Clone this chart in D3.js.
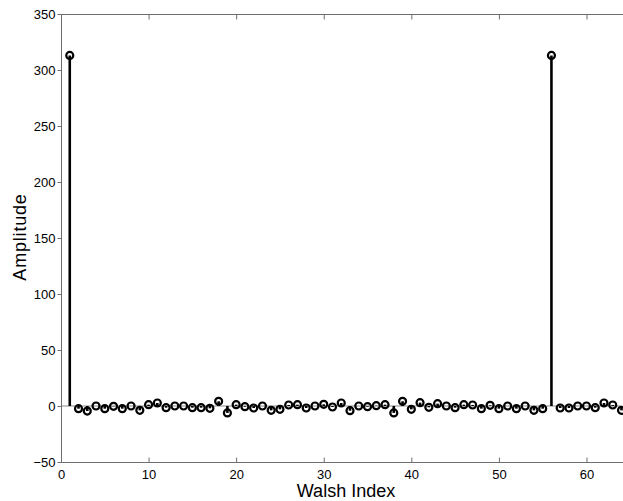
<!DOCTYPE html>
<html><head><meta charset="utf-8">
<script src="https://cdn.jsdelivr.net/npm/d3@7"></script>
<style>html,body{margin:0;padding:0;background:#fff;overflow:hidden}</style>
</head><body>
<svg id="c" width="623" height="501"></svg>
<script>
const walshIndex = [1,2,3,4,5,6,7,8,9,10,11,12,13,14,15,16,17,18,19,20,21,22,23,24,25,26,27,28,29,30,31,32,
  33,34,35,36,37,38,39,40,41,42,43,44,45,46,47,48,49,50,51,52,53,54,55,56,57,58,59,60,61,62,63,64];
const amplitude = [313,-2.4,-4.5,0,-2.4,-0.3,-2.4,0,-3.9,1.2,2.7,-1.5,0,0,-1.5,-1.5,-2.1,4.2,-6.2,1.2,
  -0.6,-1.8,0,-3.9,-3,0.9,1.2,-1.8,0,1.5,-0.9,2.7,-4.2,0,-0.6,0.3,1.2,-6.2,4.2,-3,3,-1.2,2.1,0,-1.5,1.2,0.9,
  -2.4,0.6,-2.4,0,-2.4,0,-3.9,-2.4,313,-1.8,-1.8,0,0,-1.5,2.7,0.9,-3.9];
const xTicks = [0,10,20,30,40,50,60];
const yTicks = [-50,0,50,100,150,200,250,300,350];
const xLabel = "Walsh Index";
const yLabel = "Amplitude";

const svg = d3.select("#c");
const L = 61, R = 621.5, T = 14, B = 462;
const x = d3.scaleLinear().domain([0,64]).range([L,R]);
const y = d3.scaleLinear().domain([-50,350]).range([B,T]);
const font = "'Liberation Sans', Arial, Helvetica, sans-serif";
const axisCol = "#6e6e6e";

// baseline at zero
svg.append("line").attr("x1",L).attr("x2",R).attr("y1",y(0)).attr("y2",y(0))
  .attr("stroke","#888").attr("stroke-width",1);

// frame lines
svg.append("line").attr("x1",L).attr("x2",623).attr("y1",T+0.5).attr("y2",T+0.5).attr("stroke",axisCol);
svg.append("line").attr("x1",L).attr("x2",623).attr("y1",B+0.5).attr("y2",B+0.5).attr("stroke",axisCol);
svg.append("line").attr("x1",L+0.5).attr("x2",L+0.5).attr("y1",T).attr("y2",B+1).attr("stroke",axisCol);

// bottom axis (ticks inward)
const xa = svg.append("g").attr("transform",`translate(0,${B+0.5})`)
  .call(d3.axisBottom(x).tickValues(xTicks).tickSize(-5).tickPadding(7.5).tickSizeOuter(0));
xa.select(".domain").remove();
xa.selectAll("line").attr("stroke",axisCol);
xa.selectAll("text").attr("font-family",font).attr("font-size",13).attr("fill","#000");

// top ticks
const xt = svg.append("g").attr("transform",`translate(0,${T+0.5})`)
  .call(d3.axisTop(x).tickValues(xTicks).tickSize(-5).tickFormat("").tickSizeOuter(0));
xt.select(".domain").remove();
xt.selectAll("line").attr("stroke",axisCol);

// left axis
const ya = svg.append("g").attr("transform",`translate(${L+0.5},0)`)
  .call(d3.axisLeft(y).tickValues(yTicks).tickSize(4).tickPadding(2).tickSizeOuter(0));
ya.select(".domain").remove();
ya.selectAll("line").attr("stroke",axisCol);
ya.selectAll("text").attr("font-family",font).attr("font-size",13).attr("fill","#000");

// stems
const data = walshIndex.map((k,i)=>({k, v: amplitude[i]}));
svg.append("g").selectAll("line").data(data).join("line")
  .attr("x1",d=>x(d.k)).attr("x2",d=>x(d.k))
  .attr("y1",y(0)).attr("y2",d=>y(d.v))
  .attr("stroke","#000").attr("stroke-width",2.6);

// markers
svg.append("g").selectAll("circle").data(data).join("circle")
  .attr("cx",d=>x(d.k)).attr("cy",d=>y(d.v)).attr("r",3.5)
  .attr("fill","none").attr("stroke","#000").attr("stroke-width",2.2);

// labels
svg.append("text").attr("x",346).attr("y",497).attr("text-anchor","middle")
  .attr("font-family",font).attr("font-size",18).text(xLabel);
svg.append("text").attr("transform","translate(26,237) rotate(-90)").attr("text-anchor","middle")
  .attr("font-family",font).attr("font-size",18).attr("letter-spacing",0.8).text(yLabel);
</script>
</body></html>
